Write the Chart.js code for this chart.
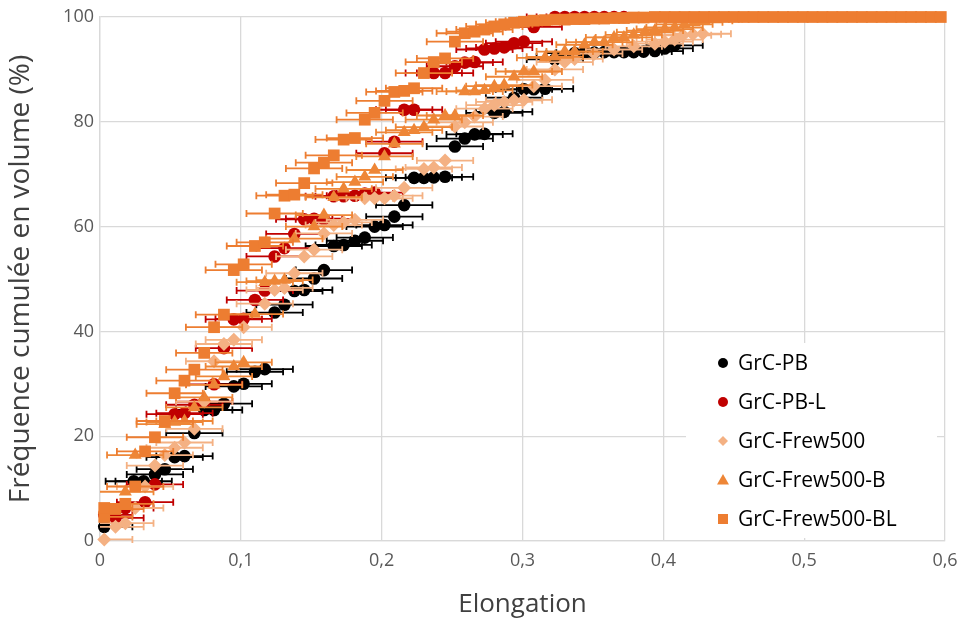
<!DOCTYPE html>
<html>
<head>
<meta charset="utf-8">
<script src="https://cdn.jsdelivr.net/npm/chart.js@4"></script>
<style>
  html, body { margin: 0; padding: 0; background: #fff; }
  #wrap { width: 959px; height: 628px; }
</style>
</head>
<body>
<div id="wrap"><canvas id="c" width="959" height="628"></canvas></div>
<script>
// Données (élongation vs fréquence cumulée)
const seriesNames = ['GrC-PB', 'GrC-PB-L', 'GrC-Frew500', 'GrC-Frew500-B', 'GrC-Frew500-BL'];
const seriesColors = ['#000000', '#C00000', '#F4B183', '#EE8637', '#ED7D31'];
const xTickLabels = ['0', '0,1', '0,2', '0,3', '0,4', '0,5', '0,6'];
const yTickLabels = ['0', '20', '40', '60', '80', '100'];
const errX = [0.02, 0.02, 0.02, 0.02, 0.02];

const pbX = [0.003,0.024,0.031,0.039,0.046,0.053,0.060,0.067,0.074,0.081,0.088,0.095,0.102,0.110,0.117,
  0.124,0.131,0.138,0.145,0.152,0.159,0.166,0.173,0.181,0.188,0.195,0.202,0.209,0.216,0.223,0.230,0.237,0.245,
  0.252,0.259,0.266,0.273,0.280,0.287,0.294,0.301,0.308,0.316,0.323,0.330,0.337,0.344,0.351,0.358,0.365,0.372,
  0.379,0.386,0.394,0.401,0.408];
const pbY = [2.7,11.4,11.4,12.7,13.7,16.0,16.2,20.6,25.0,25.0,26.2,29.5,30.0,32.3,32.8,
  43.6,45.1,47.7,47.9,50.1,51.7,56.3,56.5,57.3,57.9,60.0,60.3,61.9,64.1,69.3,69.3,69.4,69.5,
  75.3,76.8,77.6,77.7,81.7,81.9,84.6,86.2,86.2,86.3,91.9,92.4,93.1,93.2,93.2,93.3,93.3,93.3,
  93.3,93.4,93.5,94.0,94.6];

const pblX = [0.003,0.011,0.018,0.032,0.039,0.053,0.060,0.067,0.074,0.081,0.088,0.095,0.102,0.110,0.117,
  0.124,0.131,0.138,0.145,0.152,0.159,0.166,0.173,0.181,0.188,0.195,0.202,0.209,0.216,0.223,0.237,0.245,
  0.252,0.259,0.266,0.273,0.280,0.287,0.294,0.301,0.308,0.323,0.330,0.337,0.344,0.351,0.358,0.365,0.372];
const pblY = [5.0,4.4,6.3,7.4,10.8,24.2,24.4,26.0,26.6,29.9,36.8,42.3,42.4,46.0,47.8,
  54.3,55.9,58.6,61.4,61.5,61.4,65.8,65.8,65.9,66.3,66.5,74.0,76.2,82.3,82.3,89.3,89.3,
  90.6,91.3,91.4,93.8,94.0,94.2,95.0,95.3,98.1,100,100,100,100,100,100,100,100];

const frewX = [0.003,0.011,0.018,0.025,0.032,0.039,0.046,0.053,0.060,0.067,0.074,0.081,0.088,0.095,0.102,
  0.117,0.124,0.131,0.138,0.145,0.152,0.159,0.166,0.173,0.181,0.188,0.195,0.202,0.209,0.216,0.230,0.237,0.245,
  0.252,0.259,0.266,0.273,0.280,0.287,0.294,0.301,0.308,0.316,0.323,0.330,0.337,0.351,0.365,0.379,0.394,
  0.401,0.408,0.414,0.421,0.428];
const frewY = [0.3,2.7,3.4,6.3,10.4,14.4,16.4,17.8,18.8,21.4,26.6,34.3,37.6,38.4,40.8,
  45.3,47.9,48.3,51.1,54.3,55.6,58.7,60.3,60.8,61.3,65.4,65.4,65.4,65.9,67.4,71.0,71.3,72.6,
  79.1,79.9,81.0,82.5,83.2,83.8,84.1,84.2,86.8,88.0,90.0,91.4,92.0,93.0,93.8,94.4,94.9,
  95.3,95.7,96.5,96.7,96.8];

const frewbX = [0.018,0.025,0.046,0.053,0.060,0.067,0.074,0.081,0.088,0.095,0.102,0.110,0.117,0.124,0.131,
  0.138,0.152,0.159,0.166,0.173,0.181,0.188,0.195,0.202,0.209,0.216,0.223,0.230,0.237,0.245,0.252,
  0.259,0.266,0.273,0.280,0.287,0.294,0.301,0.308,0.316,0.323,0.330,0.337,0.344,0.351,0.358,0.365,0.372,
  0.379,0.387,0.394,0.401,0.408,0.415,0.422,0.429,0.436];
const frewbY = [9.4,16.4,22.3,22.7,22.9,25.5,27.4,29.8,31.4,33.3,34.1,43.3,49.4,49.6,49.8,
  57.7,60.0,62.2,65.6,67.2,68.5,69.5,70.8,73.4,75.8,78.0,78.4,79.0,80.4,81.2,81.2,
  85.8,85.8,86.0,86.8,87.0,88.6,89.6,89.6,92.2,92.4,93.4,93.4,94.7,95.2,95.2,96.1,96.1,
  96.6,97.1,97.4,97.7,98.0,98.6,99.0,99.3,99.6];

const frewblX = [0.003,0.003,0.011,0.018,0.025,0.032,0.039,0.046,0.053,0.060,0.067,0.074,0.081,0.088,0.095,
  0.102,0.110,0.117,0.124,0.131,0.138,0.145,0.152,0.159,0.166,0.173,0.181,0.188,0.195,0.202,0.209,0.216,
  0.223,0.230,0.237,0.245,0.252,0.259,0.266,0.273,0.280,0.287,0.294,0.301,0.308,0.316,0.323,0.330,0.337,
  0.344,0.351,0.358,0.365,0.372,0.379,0.386,0.394,0.401,0.408,0.415,0.422,0.429,0.436,0.443,0.450,0.457,
  0.464,0.471,0.478,0.485,0.492,0.499,0.506,0.513,0.520,0.527,0.534,0.541,0.548,0.555,0.562,0.569,0.576,
  0.583,0.590,0.597];
const frewblY = [4.6,6.3,6.1,7.1,10.4,17.1,19.8,22.9,28.2,30.6,32.7,35.9,40.8,43.2,51.7,
  52.8,56.3,57.0,62.5,65.9,66.1,68.3,71.1,72.2,73.6,76.6,76.9,80.4,81.7,84.0,85.7,85.9,
  86.4,89.3,91.4,92.1,95.3,96.9,97.2,97.6,98.2,98.6,98.9,99.1,99.3,99.4,99.5,99.5,99.6,
  99.6,99.7,99.7,99.8,99.8,99.9,99.9,100,100,100,100,100,100,100,100,100,100,
  100,100,100,100,100,100,100,100,100,100,100,100,100,100,100,100,100,
  100,100,100];

const allX = [pbX, pblX, frewX, frewbX, frewblX];
const allY = [pbY, pblY, frewY, frewbY, frewblY];
const pointStyles = ['circle', 'circle', 'rectRot', 'triangle', 'rect'];
const pointSizes = [6.3, 6.3, 7, 7.5, 8.3];

const FONT = "'Open Sans', sans-serif";

// Barres d'erreur horizontales, dessinées juste avant chaque série
const errorBars = {
    id: 'errorBars',
    beforeDatasetDraw(chart, args) {
        const i = args.index;
        const xs = chart.scales.x, ys = chart.scales.y;
        const area = chart.chartArea;
        const ctx = chart.ctx;
        ctx.save();
        ctx.strokeStyle = seriesColors[i];
        ctx.lineWidth = 1.8;
        allX[i].forEach(function(x, k) {
            const py = ys.getPixelForValue(allY[i][k]);
            let x1 = xs.getPixelForValue(x - errX[i]);
            let x2 = xs.getPixelForValue(x + errX[i]);
            const c1 = x1 >= area.left, c2 = x2 <= area.right;
            x1 = Math.max(x1, area.left);
            x2 = Math.min(x2, area.right);
            ctx.beginPath();
            ctx.moveTo(x1, py); ctx.lineTo(x2, py);
            if (c1) { ctx.moveTo(x1, py - 3.5); ctx.lineTo(x1, py + 3.5); }
            if (c2) { ctx.moveTo(x2, py - 3.5); ctx.lineTo(x2, py + 3.5); }
            ctx.stroke();
        });
        ctx.restore();
    }
};

// Légende dans le coin bas droit, avec fond blanc
const boxLegend = {
    id: 'boxLegend',
    afterDraw(chart) {
        const ctx = chart.ctx;
        ctx.save();
        ctx.fillStyle = '#fff';
        ctx.fillRect(686, 343, 251, 195);
        const rows = [363, 402, 441, 480, 519];
        seriesNames.forEach(function(name, i) {
            const y = rows[i];
            ctx.fillStyle = seriesColors[i];
            ctx.beginPath();
            if (i < 2) {
                ctx.arc(723, y, 5, 0, Math.PI * 2);
            } else if (i === 2) {
                ctx.moveTo(723, y - 5); ctx.lineTo(728, y); ctx.lineTo(723, y + 5); ctx.lineTo(718, y);
            } else if (i === 3) {
                ctx.moveTo(723, y - 6); ctx.lineTo(729, y + 4.5); ctx.lineTo(717, y + 4.5);
            } else {
                ctx.rect(718, y - 5, 10, 10);
            }
            ctx.closePath();
            ctx.fill();
            ctx.fillStyle = '#000';
            ctx.font = '21px ' + FONT;
            ctx.textBaseline = 'middle';
            ctx.fillText(name, 738, y + 1);
        });
        ctx.restore();
    }
};

const datasets = seriesNames.map(function(name, i) {
    return {
        label: name,
        data: allX[i].map(function(x, k) { return { x: x, y: allY[i][k] }; }),
        pointStyle: pointStyles[i],
        pointRadius: pointSizes[i],
        pointHoverRadius: pointSizes[i],
        backgroundColor: seriesColors[i],
        borderColor: seriesColors[i],
        pointBorderWidth: 0,
        showLine: false,
        clip: false,
        order: 5 - i
    };
});

new Chart(document.getElementById('c'), {
    type: 'scatter',
    data: { datasets: datasets },
    plugins: [errorBars, boxLegend],
    options: {
        responsive: false,
        animation: false,
        layout: { padding: { top: 17, right: 14, left: 0, bottom: 0 } },
        plugins: {
            legend: { display: false },
            tooltip: { enabled: false }
        },
        scales: {
            x: {
                type: 'linear',
                min: 0,
                max: 0.6,
                afterFit: function(s) {
                    s.height = 87;
                    s.paddingLeft = 0;
                    s.paddingRight = 0;
                },
                grid: { color: '#d9d9d9', lineWidth: 1.3, drawTicks: false },
                border: { color: '#d9d9d9', width: 1.3 },
                ticks: {
                    stepSize: 0.1,
                    padding: 9,
                    color: '#595959',
                    font: { size: 18, family: FONT },
                    callback: function(v, idx) { return xTickLabels[idx]; }
                },
                title: {
                    display: true,
                    text: 'Elongation',
                    color: '#404040',
                    font: { size: 26, family: FONT },
                    padding: { top: 0, bottom: 8 }
                }
            },
            y: {
                min: 0,
                max: 100,
                afterFit: function(s) { s.width = 100; },
                grid: { color: '#d9d9d9', lineWidth: 1.3, drawTicks: false },
                border: { color: '#d9d9d9', width: 1.3 },
                ticks: {
                    stepSize: 20,
                    padding: 6,
                    color: '#595959',
                    font: { size: 18, family: FONT },
                    callback: function(v, idx) { return yTickLabels[idx]; }
                },
                title: {
                    display: true,
                    text: 'Fréquence cumulée en volume (%)',
                    color: '#404040',
                    font: { size: 28, family: FONT },
                    padding: { top: 4, bottom: 0 }
                }
            }
        }
    }
});
</script>
</body>
</html>
